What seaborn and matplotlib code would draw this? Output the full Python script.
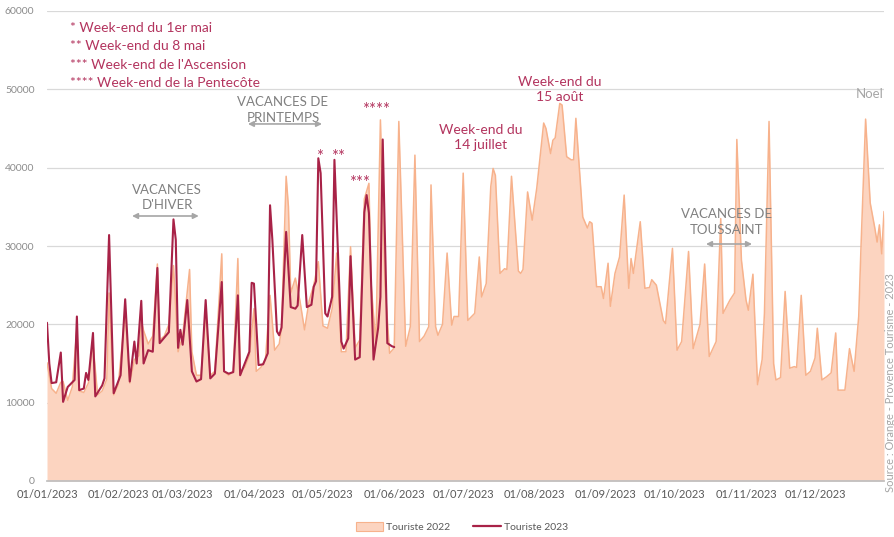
import numpy as np
import pandas as pd
import matplotlib
matplotlib.use("Agg")
import matplotlib.pyplot as plt
import matplotlib.dates as mdates
from matplotlib.patches import Patch
from matplotlib.lines import Line2D
import seaborn as sns

# ---------------- data (day offset from 01/01, visitors) ----------------
days_2022 = [0, 2, 4, 6, 7, 9, 11, 13, 14, 16, 18, 20, 22, 24, 26, 27, 29, 31, 34, 36,
             38, 40, 41, 42, 44, 46, 48, 49, 51, 53, 55, 57, 59, 62, 63, 65, 67, 69, 71, 73,
             76, 77, 79, 81, 83, 84, 86, 88, 90, 91, 93, 95, 97, 99, 101, 102, 104, 105, 106, 108,
             110, 112, 114, 116, 118, 120, 122, 124, 126, 128, 130, 132, 134, 136, 138, 140, 141, 143, 145, 147,
             149, 151, 153, 156, 158, 160, 162, 164, 166, 167, 169, 170, 172, 174, 176, 177, 179, 181, 183, 186,
             188, 189, 191, 193, 194, 195, 197, 199, 200, 202, 205, 206, 207, 209, 211, 213, 215, 216, 217, 219,
             220, 221, 223, 224, 226, 228, 229, 230, 233, 235, 236, 237, 239, 241, 242, 244, 245, 247, 249, 251,
             253, 254, 255, 258, 260, 262, 263, 265, 268, 269, 272, 274, 276, 279, 281, 284, 286, 288, 291, 293,
             294, 297, 299, 300, 302, 304, 305, 307, 309, 311, 312, 314, 316, 317, 319, 321, 323, 325, 326, 328,
             330, 332, 334, 335, 337, 339, 341, 343, 344, 347, 349, 351, 353, 354, 356, 358, 360, 361, 362, 363,
             364]
touriste_2022 = [15100, 11800, 11200, 12600, 12700, 10300, 12000, 19500, 11500, 11300, 12500, 17500, 11000, 11500, 13000, 24000, 11000, 12300, 21500, 12500,
                 15500, 16000, 20500, 19200, 17500, 18500, 27700, 18000, 18500, 20000, 27500, 16500, 18500, 27000, 16500, 13500, 13500, 21500, 13500, 14000,
                 29000, 14000, 13500, 14000, 28400, 14000, 14500, 16000, 22000, 14000, 14500, 15500, 23700, 16700, 17500, 19500, 38900, 35000, 24000, 25900,
                 23000, 19300, 23000, 25000, 28000, 19800, 19500, 22000, 29100, 16500, 16500, 29900, 17000, 18000, 36000, 38000, 25000, 17500, 46100, 25000,
                 16300, 17000, 45900, 17200, 19700, 41600, 17800, 18500, 19700, 37800, 19700, 18600, 20000, 29100, 19900, 21000, 21000, 39300, 20500, 21400,
                 28600, 23500, 25200, 37600, 39900, 39000, 26500, 27100, 27000, 38900, 26800, 26500, 27000, 36900, 33300, 37400, 43000, 45700, 45000, 41800,
                 43500, 43800, 48200, 48000, 41400, 41000, 41000, 46300, 33700, 32300, 33100, 32900, 24800, 24800, 23300, 27800, 22300, 26500, 28600, 36500,
                 24600, 28400, 26500, 33100, 24600, 24700, 25700, 25000, 20500, 20100, 29700, 16700, 17800, 29300, 16900, 20000, 27700, 15900, 17800, 33500,
                 21400, 23100, 24000, 43600, 28200, 23100, 21800, 26400, 12300, 15500, 21400, 45900, 15000, 12900, 13200, 24200, 14400, 14600, 14500, 23700,
                 13500, 14000, 15700, 19500, 12900, 13300, 13800, 18900, 11600, 11600, 16900, 14000, 21000, 29900, 46200, 35500, 32300, 30500, 32700, 29000,
                 34400]

days_2023 = [0, 1, 2, 4, 6, 7, 9, 12, 13, 14, 16, 17, 18, 20, 21, 24, 25, 27, 29, 32,
             34, 36, 38, 39, 41, 42, 44, 46, 48, 49, 51, 53, 55, 56, 57, 58, 59, 61, 63, 65,
             67, 69, 71, 73, 76, 77, 79, 81, 83, 84, 86, 88, 89, 90, 92, 94, 96, 97, 98, 100,
             101, 102, 104, 106, 108, 109, 111, 113, 115, 116, 117, 118, 119, 121, 122, 124, 125, 128, 129, 131,
             132, 134, 136, 138, 139, 140, 142, 144, 145, 146, 148, 150, 151]
touriste_2023 = [20200, 15000, 12500, 12600, 16400, 10100, 12000, 12900, 21000, 11600, 11800, 13800, 12900, 18900, 10800, 12200, 13100, 31400, 11200, 13500,
                 23200, 12700, 17800, 15000, 23000, 15000, 16700, 16500, 27200, 17600, 18300, 19000, 33400, 30800, 17000, 19300, 17400, 23100, 14000, 12700,
                 13000, 23100, 13100, 13700, 25400, 14000, 13700, 13900, 23700, 13500, 15000, 16500, 25300, 25200, 14800, 14900, 16300, 35200, 30800, 19100,
                 18600, 19600, 31800, 22200, 22000, 22400, 31400, 22200, 22500, 24800, 25500, 41200, 39300, 21400, 21000, 23500, 41000, 17800, 16900, 18200,
                 28700, 15500, 15800, 34300, 36500, 34200, 15500, 19500, 23500, 43600, 17600, 17200, 17100]

series_labels = ["Touriste 2022", "Touriste 2023"]
start = pd.Timestamp("2023-01-01")

df22 = pd.DataFrame({"date": start + pd.to_timedelta(days_2022, unit="D"), "value": touriste_2022})
df23 = pd.DataFrame({"date": start + pd.to_timedelta(days_2023, unit="D"), "value": touriste_2023})

# ---------------- style ----------------
sns.set_theme(style="white")
plt.rcParams["font.family"] = ["Lato", "DejaVu Sans"]

FILL = "#FCD4C0"
EDGE = "#F7B28C"
RED = "#A82247"
CRIMSON = "#B3345E"
GREY = "#808080"

fig = plt.figure(figsize=(8.95, 5.37), dpi=100)
ax = fig.add_axes([47 / 895, 1 - 481 / 537, (884 - 47) / 895, (481 - 11) / 537])

ax.fill_between(df22["date"], df22["value"], 0, color=FILL, lw=0, zorder=1)
sns.lineplot(data=df22, x="date", y="value", ax=ax, color=EDGE, lw=1.1, zorder=2)
sns.lineplot(data=df23, x="date", y="value", ax=ax, color=RED, lw=1.5, zorder=3)

ax.set_xlim(start, pd.Timestamp("2023-12-31"))
ax.set_ylim(0, 60000)
ax.set_yticks(np.arange(0, 60001, 10000))
ax.set_yticklabels([f"{v:d}" for v in range(0, 60001, 10000)])
ax.xaxis.set_major_locator(mdates.MonthLocator())
ax.xaxis.set_major_formatter(mdates.DateFormatter("%d/%m/%Y"))
ax.set_xlabel("")
ax.set_ylabel("")
ax.grid(axis="y", color="#D9D9D9", lw=0.9)
ax.set_axisbelow(True)
for s in ["top", "right", "left"]:
    ax.spines[s].set_visible(False)
ax.spines["bottom"].set_color("#BFBFBF")
ax.tick_params(axis="x", colors="#595959", labelsize=8, length=4, color="#BFBFBF", pad=2)
ax.tick_params(axis="y", colors="#8C8C8C", labelsize=7.5, length=0, pad=9)
for lab in ax.get_xticklabels():
    lab.set_color("#595959")

def d(day):
    return mdates.date2num(start + pd.Timedelta(days=day))

# list of long weekends
notes = ["* Week-end du 1er mai", "** Week-end du 8 mai",
         "*** Week-end de l'Ascension", "**** Week-end de la Pentecôte"]
for i, t in enumerate(notes):
    ax.text(d(10), 57830 - i * 2330, t, color=CRIMSON, fontsize=10, ha="left", va="center")

def holiday(label, cx, cy, x0, x1, ay):
    ax.text(d(cx), cy, label, color=GREY, fontsize=9.5, ha="center", va="center", linespacing=1.35)
    ax.annotate("", xy=(d(x0), ay), xytext=(d(x1), ay),
                arrowprops=dict(arrowstyle="<|-|>", color="#A6A6A6", lw=1.2,
                                mutation_scale=8, shrinkA=0, shrinkB=0))

holiday("VACANCES\nD'HIVER", 52.2, 36190, 37, 66, 33830)
holiday("VACANCES DE\nPRINTEMPS", 102.6, 47360, 87.4, 119.6, 45580)
holiday("VACANCES DE\nTOUSSAINT", 295.3, 33060, 286.6, 306.6, 30255)

for t, x, y in [("*", 118.3, 41400), ("**", 126.6, 41400), ("***", 136.1, 38100), ("****", 143.1, 47400)]:
    ax.text(d(x), y, t, color=CRIMSON, fontsize=12, ha="center", va="center")

ax.text(d(188.7), 43900, "Week-end du\n14 juillet", color=CRIMSON, fontsize=10,
        ha="center", va="center", linespacing=1.3)
ax.text(d(223.1), 50040, "Week-end du\n15 août", color=CRIMSON, fontsize=10,
        ha="center", va="center", linespacing=1.3)
ax.text(d(364), 49400, "Noel", color="#A6A6A6", fontsize=9.5, ha="right", va="center")

fig.text(891 / 895, 1 - 492 / 537, "Source : Orange - Provence Tourisme - 2023", rotation=90,
         rotation_mode="anchor", ha="left", va="center", fontsize=8, color="#A6A6A6")

handles = [Patch(facecolor=FILL, edgecolor=EDGE, lw=0.8),
           Line2D([0], [0], color=RED, lw=1.6)]
fig.legend(handles, series_labels, loc="center", bbox_to_anchor=(462 / 895, 1 - 527 / 537),
           ncol=2, frameon=False, fontsize=7.5, labelcolor="#595959",
           handlelength=2.6, handleheight=0.9, columnspacing=2.2, handletextpad=0.3)

fig.savefig("out.png", dpi=100)
